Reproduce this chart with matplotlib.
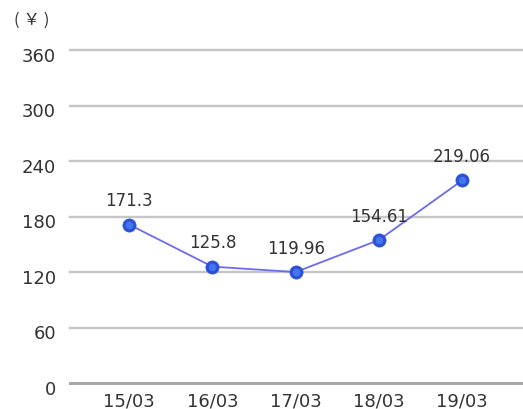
import matplotlib.pyplot as plt
import matplotlib.transforms as mtransforms

# datos
fechas = ['15/03', '16/03', '17/03', '18/03', '19/03']
valores = [171.3, 125.8, 119.96, 154.61, 219.06]
etiquetas = ['171.3', '125.8', '119.96', '154.61', '219.06']
ticks_y = [0, 60, 120, 180, 240, 300, 360]

fig = plt.figure(figsize=(5.23, 4.10), dpi=100)
ax = fig.add_axes([70 / 523, 26 / 410, 453 / 523, 333 / 410])

x = list(range(len(fechas)))

# lineas de la cuadricula
for t in ticks_y:
    if t == 0:
        ax.axhline(t, color='#a8a8a8', lw=2.2, zorder=1, clip_on=False)
    else:
        ax.axhline(t, color='#c6c6c6', lw=1.7, zorder=1, clip_on=False)

ax.plot(x, valores, color='#6b6bf5', lw=1.3, zorder=2)
# circulos con un poco de brillo en el centro
ax.plot(x, valores, 'o', ms=9.5, mfc='#2a50d6', mec='#3158dc', mew=0.5,
        zorder=3, clip_on=False)
ax.plot(x, valores, 'o', ms=5.5, mfc='#4f82f4', mec='none', alpha=0.75,
        zorder=4, clip_on=False)

for xi, v, lab in zip(x, valores, etiquetas):
    ax.annotate(lab, (xi, v), xytext=(0, 14), textcoords='offset points',
                ha='center', va='baseline', fontsize=12, color='#333333')

ax.set_xlim(-0.71, 4.73)
ax.set_ylim(0, 360)
ax.set_xticks(x)
ax.set_xticklabels(fechas)
ax.set_yticks(ticks_y)
ax.tick_params(length=0, labelsize=13, colors='#333333')
ax.tick_params(axis='y', pad=10)
ax.tick_params(axis='x', pad=6)
# las etiquetas del eje y quedan un poco por debajo de las lineas
desp = mtransforms.ScaledTranslation(0, -4 / 100, fig.dpi_scale_trans)
for lab in ax.get_yticklabels():
    lab.set_transform(lab.get_transform() + desp)
for s in ax.spines.values():
    s.set_visible(False)

fig.text(14 / 523, 1 - 20 / 410, '( ￥ )', fontsize=12, color='#333333',
         va='center', ha='left', family=['Noto Sans CJK JP', 'DejaVu Sans'])

fig.savefig('out.png', dpi=100)
